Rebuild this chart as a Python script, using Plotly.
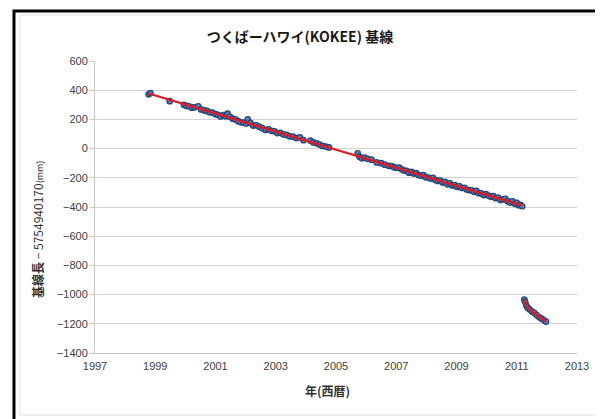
import numpy as np
import plotly.graph_objects as go

# ---- data ----
years_pre = [
    1998.78, 1998.84, 1999.48,
    1999.95, 2000.04, 2000.12, 2000.22, 2000.30, 2000.43, 2000.52, 2000.62, 2000.71, 2000.80, 2000.90,
    2001.00, 2001.08, 2001.17, 2001.26, 2001.34, 2001.40, 2001.48, 2001.57, 2001.66, 2001.75, 2001.84, 2001.93,
    2002.02, 2002.07, 2002.16, 2002.25, 2002.35, 2002.45, 2002.55, 2002.66, 2002.76, 2002.86, 2002.96,
    2003.05, 2003.15, 2003.25, 2003.36, 2003.46, 2003.57, 2003.68, 2003.80, 2003.92,
    2004.15, 2004.25, 2004.36, 2004.46, 2004.55, 2004.66, 2004.77,
    2005.72, 2005.78, 2005.86, 2005.95, 2006.05, 2006.18, 2006.35, 2006.50, 2006.62, 2006.75, 2006.85, 2006.93,
    2007.02, 2007.10, 2007.18, 2007.26, 2007.34, 2007.42, 2007.50, 2007.58, 2007.66, 2007.74, 2007.82, 2007.90, 2007.98,
    2008.06, 2008.14, 2008.22, 2008.30, 2008.38, 2008.46, 2008.54, 2008.62, 2008.70, 2008.78, 2008.86, 2008.94,
    2009.02, 2009.10, 2009.18, 2009.26, 2009.34, 2009.42, 2009.50, 2009.58, 2009.66, 2009.74, 2009.82, 2009.90, 2009.98,
    2010.06, 2010.14, 2010.22, 2010.30, 2010.38, 2010.46, 2010.54, 2010.62, 2010.70, 2010.78, 2010.86, 2010.94,
    2011.00, 2011.06, 2011.12, 2011.18,
]
values_pre = [
    372, 380, 325,
    300, 292, 290, 280, 283, 290, 268, 262, 258, 249, 246,
    236, 232, 220, 230, 222, 240, 218, 205, 200, 188, 180, 178,
    172, 200, 176, 158, 160, 150, 140, 128, 132, 122, 118,
    106, 108, 98, 94, 84, 82, 72, 77, 58,
    55, 42, 36, 28, 18, 14, 8,
    -32, -56, -66, -62, -70, -76, -95, -100, -110, -118, -120, -128,
    -132, -130, -142, -150, -152, -165, -160, -170, -168, -180, -186, -182, -196,
    -198, -205, -200, -215, -222, -220, -232, -228, -245, -238, -252, -250,
    -262, -258, -270, -268, -280, -284, -286, -296, -290, -305, -306, -318, -312,
    -322, -330, -326, -340, -336, -352, -348, -345, -360, -370, -362, -378,
    -372, -388, -385, -395,
]
years_post = [2011.25, 2011.28, 2011.32, 2011.36, 2011.42, 2011.50, 2011.58, 2011.66, 2011.75, 2011.83, 2011.92, 2011.97]
values_post = [-1035, -1050, -1075, -1090, -1100, -1115, -1125, -1140, -1155, -1165, -1178, -1185]

x_ticks = [1997, 1999, 2001, 2003, 2005, 2007, 2009, 2011, 2013]
y_ticks = [600, 400, 200, 0, -200, -400, -600, -800, -1000, -1200, -1400]

title_text = "<b>つくばーハワイ(KOKEE) 基線</b>"
ytitle_text = "<b>基線長</b> − 5754940170<span style='font-size:9px'>(mm)</span>"
xtitle_text = "<b>年(西暦)</b>"

# linear trend for the pre-earthquake period
coef = np.polyfit(years_pre, values_pre, 1)
trend_x = [years_pre[0], years_pre[-1]]
trend_y = list(np.polyval(coef, trend_x))

FONT = "Liberation Sans, Arial, Noto Sans CJK JP, sans-serif"
CJK = "Noto Sans CJK JP, sans-serif"
marker_style = dict(symbol="circle", size=5.5, color="#5A7DB0",
                    line=dict(color="#24467A", width=1.2))

fig = go.Figure()
fig.add_trace(go.Scatter(x=years_pre, y=values_pre, mode="markers", marker=marker_style,
                         showlegend=False))
fig.add_trace(go.Scatter(x=years_post, y=values_post, mode="markers", marker=marker_style,
                         showlegend=False))
fig.add_trace(go.Scatter(x=trend_x, y=trend_y, mode="lines",
                         line=dict(color="#E8161E", width=2.2), showlegend=False))
fig.add_trace(go.Scatter(x=years_post, y=values_post, mode="lines",
                         line=dict(color="#E8161E", width=2.2), showlegend=False))

ymin, ymax = -1400, 600
zero_pos = (0 - ymin) / (ymax - ymin)

# page body has an 8px margin: figure drawn at (8, 8)
OFF = 8
W, H = 603 - OFF, 419 - OFF
L, T = 95 - OFF, 61 - OFF
R = W - (577 - OFF)
B = H - (353 - OFF)
PW, PH = 577 - 95, 353 - 61


def px_x(px):
    return (px - 95) / PW


def px_y(py):
    return 1 - (py - 61) / PH


fig.update_layout(
    width=W, height=H,
    margin=dict(l=L, r=R, t=T, b=B),
    paper_bgcolor="white", plot_bgcolor="white",
    font=dict(family=FONT, size=11, color="#404040"),
    title=dict(text=title_text, x=(300 - OFF) / W, xanchor="center",
               y=1 - (37 - OFF) / H, yanchor="middle",
               font=dict(family=CJK, size=14, color="#1a1a1a")),
    xaxis=dict(range=[1997, 2013], tickvals=x_ticks, ticktext=[str(v) for v in x_ticks],
               showgrid=False, zeroline=False, showline=True, linecolor="#C8C8C8", linewidth=1,
               ticks="", ticklabelstandoff=3, tickfont=dict(size=11, color="#404040")),
    xaxis2=dict(range=[1997, 2013], tickvals=x_ticks, overlaying="x", anchor="free",
                position=zero_pos, side="bottom", showgrid=False, zeroline=False,
                showline=True, linecolor="#A8A8A8", linewidth=1, ticks="outside",
                ticklen=4, tickcolor="#A8A8A8", showticklabels=False),
    yaxis=dict(range=[ymin, ymax], tickvals=y_ticks, showgrid=True, gridcolor="#D2D2D2",
               gridwidth=1, zeroline=False, showline=True, linecolor="#C8C8C8", linewidth=1,
               ticks="outside", ticklen=4, tickcolor="#C8C8C8",
               tickfont=dict(size=11, color="#404040")),
    annotations=[
        dict(text=ytitle_text, xref="paper", yref="paper", x=px_x(37),
             y=px_y(230), textangle=-90, showarrow=False,
             font=dict(family=CJK, size=12, color="#303030"),
             xanchor="center", yanchor="middle"),
        dict(text=xtitle_text, xref="paper", yref="paper", x=px_x(327),
             y=px_y(390), showarrow=False,
             font=dict(family=CJK, size=12, color="#303030"),
             xanchor="center", yanchor="middle"),
    ],
    shapes=[
        dict(type="rect", xref="paper", yref="paper",
             x0=px_x(14), x1=px_x(600), y0=px_y(440), y1=px_y(11),
             line=dict(color="black", width=3), fillcolor="rgba(0,0,0,0)", layer="below"),
        dict(type="rect", xref="paper", yref="paper",
             x0=px_x(20), x1=px_x(596), y0=px_y(415), y1=px_y(15),
             line=dict(color="#E0E0E0", width=1), fillcolor="rgba(0,0,0,0)", layer="below"),
    ],
)

fig.write_html("out.html")
